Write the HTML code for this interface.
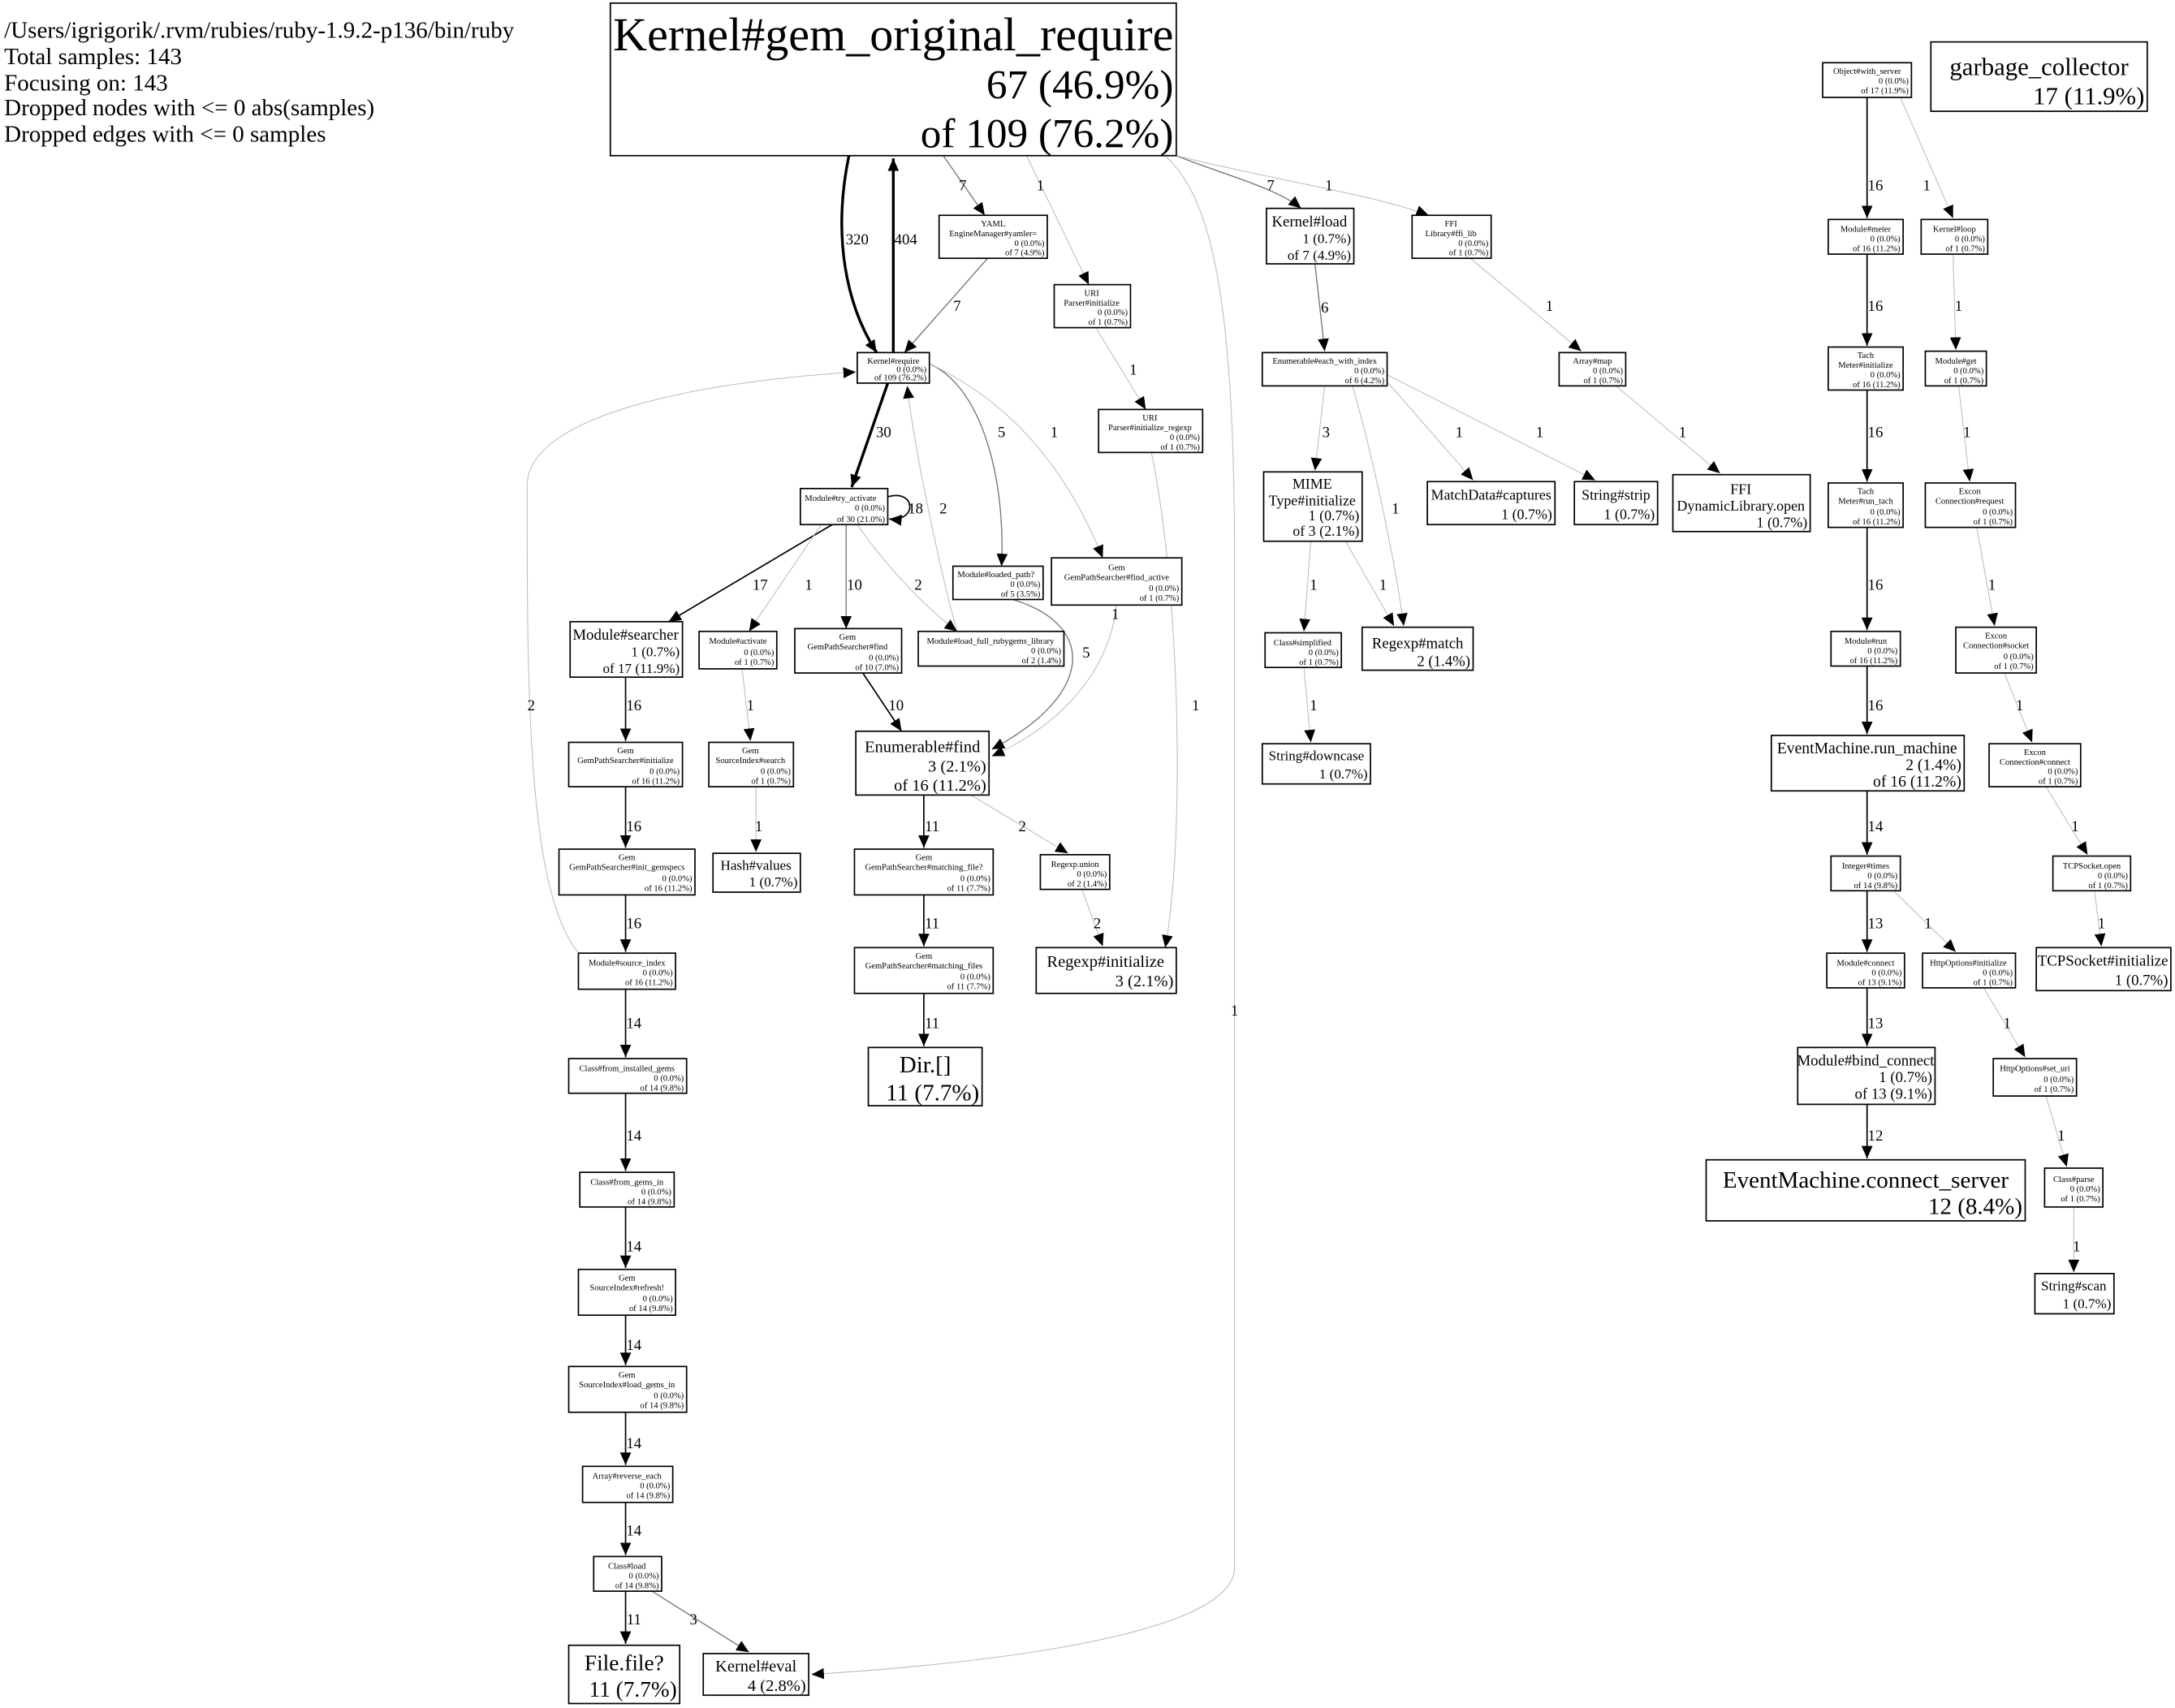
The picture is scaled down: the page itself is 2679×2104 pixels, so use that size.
<!DOCTYPE html>
<html><head><meta charset="utf-8"><style>
html,body{margin:0;padding:0;background:#fff;}
svg{display:block;}
text{font-family:"Liberation Serif",serif;fill:#000;}
.s{font-size:6.2px;}
.r{text-anchor:end;}
.c{text-anchor:middle;}
.l{font-size:11px;text-anchor:middle;}
rect{fill:#fff;stroke:#000;stroke-width:1;}
path{fill:none;}
.e1{stroke:#bbb;stroke-width:0.6;}
.e2{stroke:#777;stroke-width:0.8;}
.e3{stroke:#000;stroke-width:1;}
.eb{stroke:#000;stroke-width:2;}
</style></head><body>
<svg width="2679" height="2104" viewBox="0 0 1568 1231" xmlns="http://www.w3.org/2000/svg">
<defs>
<marker id="a" markerUnits="userSpaceOnUse" markerWidth="10" markerHeight="10" refX="9" refY="4" orient="auto"><path d="M0,0 L9,4 L0,8 Z" style="fill:#000;stroke:none"/></marker>
</defs>
<rect x="0" y="0" width="1568" height="1231" style="stroke:none"/>
<!-- header -->
<g style="font-size:17px">
<text x="3" y="27">/Users/igrigorik/.rvm/rubies/ruby-1.9.2-p136/bin/ruby</text>
<text x="3" y="46">Total samples: 143</text>
<text x="3" y="65">Focusing on: 143</text>
<text x="3" y="83">Dropped nodes with &lt;= 0 abs(samples)</text>
<text x="3" y="102">Dropped edges with &lt;= 0 samples</text>
</g>

<!-- EDGES -->
<g marker-end="url(#a)">
<path class="eb" d="M612,112 C600,170 610,220 632,254"/>
<path class="eb" d="M644,254 L644,114"/>
<path class="e2" d="M680,112 L710,155"/>
<path class="e1" d="M740,112 L785,205"/>
<path class="e2" d="M848,112 C880,125 920,135 938,150"/>
<path class="e1" d="M848,112 C920,130 990,140 1030,155"/>
<path class="e1" d="M840,112 C870,140 890,200 890,400 L890,1130 C890,1180 700,1200 585,1207"/>
<path class="e2" d="M712,186 L652,254"/>
<path class="e1" d="M790,236 L826,295"/>
<path class="e1" d="M830,326 C850,420 855,600 840,683"/>
<path class="eb" d="M640,276 L614,351"/>
<path class="e2" d="M670,262 C710,280 725,350 722,408"/>
<path class="e1" d="M670,262 C730,290 770,340 795,402"/>
<path class="e3" d="M640,358 C660,352 662,376 641,374"/>
<path class="e3" d="M600,378 L482,448"/>
<path class="e1" d="M592,378 L540,455"/>
<path class="e2" d="M610,378 L610,453"/>
<path class="e1" d="M618,378 C640,410 670,440 690,455"/>
<path class="e1" d="M690,455 C680,420 660,330 654,278"/>
<path class="e2" d="M730,432 C790,450 790,500 715,540"/>
<path class="e1" d="M805,436 C800,480 770,520 715,545"/>
<path class="e3" d="M622,485 L650,527"/>
<path class="e3" d="M451,488 L451,534"/>
<path class="e1" d="M535,482 L541,534"/>
<path class="e1" d="M545,567 L545,614"/>
<path class="e3" d="M451,567 L451,611"/>
<path class="e3" d="M451,645 L451,686"/>
<path class="e1" d="M420,690 C380,650 380,500 380,350 C380,300 500,275 617,268"/>
<path class="e3" d="M451,713 L451,762"/>
<path class="e3" d="M451,788 L451,844"/>
<path class="e3" d="M451,870 L451,914"/>
<path class="e3" d="M451,948 L451,984"/>
<path class="e3" d="M451,1018 L451,1056"/>
<path class="e3" d="M451,1083 L451,1121"/>
<path class="e3" d="M451,1147 L451,1185"/>
<path class="e2" d="M470,1147 L540,1191"/>
<path class="e3" d="M666,573 L666,611"/>
<path class="e1" d="M700,573 L770,615"/>
<path class="e3" d="M666,645 L666,682"/>
<path class="e3" d="M666,716 L666,754"/>
<path class="e1" d="M780,641 L795,682"/>
<path class="e2" d="M948,190 L955,253"/>
<path class="e1" d="M955,278 L948,339"/>
<path class="e1" d="M975,278 C990,330 1005,400 1012,451"/>
<path class="e1" d="M1000,275 L1062,346"/>
<path class="e1" d="M1000,270 L1150,346"/>
<path class="e1" d="M945,390 L940,455"/>
<path class="e1" d="M970,390 L1005,451"/>
<path class="e1" d="M940,481 L945,535"/>
<path class="e1" d="M1060,186 L1140,253"/>
<path class="e1" d="M1165,278 L1240,341"/>
<path class="e3" d="M1346,70 L1346,157"/>
<path class="e1" d="M1370,70 L1408,157"/>
<path class="e3" d="M1346,183 L1346,249"/>
<path class="e3" d="M1346,281 L1346,347"/>
<path class="e3" d="M1346,380 L1346,454"/>
<path class="e3" d="M1346,480 L1346,529"/>
<path class="e3" d="M1346,570 L1346,616"/>
<path class="e3" d="M1346,642 L1346,686"/>
<path class="e1" d="M1365,642 L1410,686"/>
<path class="e3" d="M1346,712 L1346,754"/>
<path class="e3" d="M1346,796 L1346,835"/>
<path class="e1" d="M1430,712 L1460,762"/>
<path class="e1" d="M1475,790 L1490,841"/>
<path class="e1" d="M1495,870 L1495,917"/>
<path class="e1" d="M1408,183 L1410,252"/>
<path class="e1" d="M1412,278 L1420,347"/>
<path class="e1" d="M1425,380 L1438,451"/>
<path class="e1" d="M1445,485 L1465,535"/>
<path class="e1" d="M1475,567 L1505,616"/>
<path class="e1" d="M1510,642 L1515,682"/>
</g>

<!-- edge labels -->
<text class="l" x="618" y="176">320</text>
<text class="l" x="653" y="176">404</text>
<text class="l" x="694" y="137">7</text>
<text class="l" x="750" y="137">1</text>
<text class="l" x="916" y="137">7</text>
<text class="l" x="958" y="137">1</text>
<text class="l" x="890" y="732">1</text>
<text class="l" x="690" y="224">7</text>
<text class="l" x="817" y="270">1</text>
<text class="l" x="862" y="512">1</text>
<text class="l" x="637" y="315">30</text>
<text class="l" x="722" y="315">5</text>
<text class="l" x="760" y="315">1</text>
<text class="l" x="660" y="370">18</text>
<text class="l" x="680" y="370">2</text>
<text class="l" x="548" y="425">17</text>
<text class="l" x="583" y="425">1</text>
<text class="l" x="616" y="425">10</text>
<text class="l" x="662" y="425">2</text>
<text class="l" x="783" y="474">5</text>
<text class="l" x="804" y="446">1</text>
<text class="l" x="646" y="512">10</text>
<text class="l" x="457" y="512">16</text>
<text class="l" x="541" y="512">1</text>
<text class="l" x="547" y="599">1</text>
<text class="l" x="457" y="599">16</text>
<text class="l" x="457" y="669">16</text>
<text class="l" x="383" y="512">2</text>
<text class="l" x="457" y="741">14</text>
<text class="l" x="457" y="822">14</text>
<text class="l" x="457" y="902">14</text>
<text class="l" x="457" y="973">14</text>
<text class="l" x="457" y="1044">14</text>
<text class="l" x="457" y="1107">14</text>
<text class="l" x="457" y="1171">11</text>
<text class="l" x="500" y="1171">3</text>
<text class="l" x="672" y="599">11</text>
<text class="l" x="737" y="599">2</text>
<text class="l" x="672" y="669">11</text>
<text class="l" x="672" y="741">11</text>
<text class="l" x="791" y="669">2</text>
<text class="l" x="955" y="225">6</text>
<text class="l" x="956" y="315">3</text>
<text class="l" x="1006" y="370">1</text>
<text class="l" x="1052" y="315">1</text>
<text class="l" x="1110" y="315">1</text>
<text class="l" x="947" y="425">1</text>
<text class="l" x="997" y="425">1</text>
<text class="l" x="947" y="512">1</text>
<text class="l" x="1117" y="224">1</text>
<text class="l" x="1213" y="315">1</text>
<text class="l" x="1352" y="137">16</text>
<text class="l" x="1389" y="137">1</text>
<text class="l" x="1352" y="224">16</text>
<text class="l" x="1352" y="315">16</text>
<text class="l" x="1352" y="425">16</text>
<text class="l" x="1352" y="512">16</text>
<text class="l" x="1352" y="599">14</text>
<text class="l" x="1352" y="669">13</text>
<text class="l" x="1390" y="669">1</text>
<text class="l" x="1352" y="741">13</text>
<text class="l" x="1352" y="822">12</text>
<text class="l" x="1447" y="741">1</text>
<text class="l" x="1486" y="822">1</text>
<text class="l" x="1497" y="902">1</text>
<text class="l" x="1412" y="224">1</text>
<text class="l" x="1418" y="315">1</text>
<text class="l" x="1436" y="425">1</text>
<text class="l" x="1456" y="512">1</text>
<text class="l" x="1496" y="599">1</text>
<text class="l" x="1515" y="669">1</text>

<!-- NODES -->
<!-- big root -->
<rect x="440" y="2" width="408" height="110"/>
<text x="644" y="36" class="c" style="font-size:34px">Kernel#gem_original_require</text>
<text x="846" y="71" class="r" style="font-size:30px">67 (46.9%)</text>
<text x="846" y="106" class="r" style="font-size:30px">of 109 (76.2%)</text>

<rect x="1392" y="30" width="156" height="50"/>
<text x="1470" y="54" class="c" style="font-size:18px">garbage_collector</text>
<text x="1546" y="75" class="r" style="font-size:18px">17 (11.9%)</text>

<!-- small node helper pattern -->
<rect x="1314" y="45" width="64" height="25"/>
<text class="s c" x="1346" y="53">Object#with_server</text><text class="s r" x="1376" y="60">0 (0.0%)</text><text class="s r" x="1376" y="67">of 17 (11.9%)</text>

<rect x="618" y="254" width="52" height="22"/>
<text class="s c" x="644" y="262">Kernel#require</text><text class="s r" x="668" y="268">0 (0.0%)</text><text class="s r" x="668" y="274">of 109 (76.2%)</text>

<rect x="677" y="155" width="78" height="31"/>
<text class="s c" x="716" y="163">YAML</text><text class="s c" x="716" y="170">EngineManager#yamler=</text><text class="s r" x="753" y="177">0 (0.0%)</text><text class="s r" x="753" y="184">of 7 (4.9%)</text>

<rect x="760" y="205" width="55" height="31"/>
<text class="s c" x="787" y="213">URI</text><text class="s c" x="787" y="220">Parser#initialize</text><text class="s r" x="813" y="227">0 (0.0%)</text><text class="s r" x="813" y="234">of 1 (0.7%)</text>

<rect x="792" y="295" width="75" height="31"/>
<text class="s c" x="829" y="303">URI</text><text class="s c" x="829" y="310">Parser#initialize_regexp</text><text class="s r" x="865" y="317">0 (0.0%)</text><text class="s r" x="865" y="324">of 1 (0.7%)</text>

<rect x="913" y="150" width="63" height="40"/>
<text x="944" y="163" class="c" style="font-size:11px">Kernel#load</text><text x="974" y="175" class="r" style="font-size:10px">1 (0.7%)</text><text x="974" y="187" class="r" style="font-size:10px">of 7 (4.9%)</text>

<rect x="1018" y="155" width="57" height="31"/>
<text class="s c" x="1046" y="163">FFI</text><text class="s c" x="1046" y="170">Library#ffi_lib</text><text class="s r" x="1073" y="177">0 (0.0%)</text><text class="s r" x="1073" y="184">of 1 (0.7%)</text>

<rect x="577" y="352" width="63" height="26"/>
<text class="s c" x="606" y="361">Module#try_activate</text><text class="s r" x="638" y="368">0 (0.0%)</text><text class="s r" x="638" y="376">of 30 (21.0%)</text>

<rect x="687" y="408" width="65" height="24"/>
<text class="s c" x="718" y="416">Module#loaded_path?</text><text class="s r" x="750" y="423">0 (0.0%)</text><text class="s r" x="750" y="430">of 5 (3.5%)</text>

<rect x="758" y="402" width="94" height="34"/>
<text class="s c" x="805" y="411">Gem</text><text class="s c" x="805" y="418">GemPathSearcher#find_active</text><text class="s r" x="850" y="426">0 (0.0%)</text><text class="s r" x="850" y="433">of 1 (0.7%)</text>

<rect x="411" y="448" width="81" height="40"/>
<text x="451" y="461" class="c" style="font-size:11px">Module#searcher</text><text x="490" y="473" class="r" style="font-size:10px">1 (0.7%)</text><text x="490" y="485" class="r" style="font-size:10px">of 17 (11.9%)</text>

<rect x="504" y="455" width="56" height="27"/>
<text class="s c" x="532" y="464">Module#activate</text><text class="s r" x="558" y="472">0 (0.0%)</text><text class="s r" x="558" y="479">of 1 (0.7%)</text>

<rect x="573" y="453" width="77" height="32"/>
<text class="s c" x="611" y="461">Gem</text><text class="s c" x="611" y="468">GemPathSearcher#find</text><text class="s r" x="648" y="476">0 (0.0%)</text><text class="s r" x="648" y="483">of 10 (7.0%)</text>

<rect x="662" y="455" width="105" height="25"/>
<text class="s c" x="714" y="464">Module#load_full_rubygems_library</text><text class="s r" x="765" y="471">0 (0.0%)</text><text class="s r" x="765" y="478">of 2 (1.4%)</text>

<rect x="410" y="535" width="82" height="32"/>
<text class="s c" x="451" y="543">Gem</text><text class="s c" x="451" y="550">GemPathSearcher#initialize</text><text class="s r" x="490" y="558">0 (0.0%)</text><text class="s r" x="490" y="565">of 16 (11.2%)</text>

<rect x="511" y="535" width="61" height="32"/>
<text class="s c" x="541" y="543">Gem</text><text class="s c" x="541" y="550">SourceIndex#search</text><text class="s r" x="570" y="558">0 (0.0%)</text><text class="s r" x="570" y="565">of 1 (0.7%)</text>

<rect x="617" y="527" width="96" height="46"/>
<text x="665" y="542" class="c" style="font-size:12px">Enumerable#find</text><text x="711" y="556" class="r" style="font-size:12px">3 (2.1%)</text><text x="711" y="570" class="r" style="font-size:12px">of 16 (11.2%)</text>

<rect x="403" y="612" width="98" height="33"/>
<text class="s c" x="452" y="620">Gem</text><text class="s c" x="452" y="627">GemPathSearcher#init_gemspecs</text><text class="s r" x="499" y="635">0 (0.0%)</text><text class="s r" x="499" y="642">of 16 (11.2%)</text>

<rect x="514" y="615" width="63" height="28"/>
<text x="545" y="627" class="c" style="font-size:10px">Hash#values</text><text x="575" y="639" class="r" style="font-size:10px">1 (0.7%)</text>

<rect x="616" y="612" width="100" height="33"/>
<text class="s c" x="666" y="620">Gem</text><text class="s c" x="666" y="627">GemPathSearcher#matching_file?</text><text class="s r" x="714" y="635">0 (0.0%)</text><text class="s r" x="714" y="642">of 11 (7.7%)</text>

<rect x="750" y="616" width="50" height="25"/>
<text class="s c" x="775" y="625">Regexp.union</text><text class="s r" x="798" y="632">0 (0.0%)</text><text class="s r" x="798" y="639">of 2 (1.4%)</text>

<rect x="417" y="687" width="70" height="26"/>
<text class="s c" x="452" y="696">Module#source_index</text><text class="s r" x="485" y="703">0 (0.0%)</text><text class="s r" x="485" y="710">of 16 (11.2%)</text>

<rect x="616" y="683" width="100" height="33"/>
<text class="s c" x="666" y="691">Gem</text><text class="s c" x="666" y="698">GemPathSearcher#matching_files</text><text class="s r" x="714" y="706">0 (0.0%)</text><text class="s r" x="714" y="713">of 11 (7.7%)</text>

<rect x="747" y="683" width="101" height="33"/>
<text x="797" y="697" class="c" style="font-size:12px">Regexp#initialize</text><text x="846" y="711" class="r" style="font-size:12px">3 (2.1%)</text>

<rect x="626" y="755" width="82" height="42"/>
<text x="667" y="773" class="c" style="font-size:17px">Dir.[]</text><text x="706" y="793" class="r" style="font-size:17px">11 (7.7%)</text>

<rect x="410" y="763" width="85" height="25"/>
<text class="s c" x="452" y="772">Class#from_installed_gems</text><text class="s r" x="493" y="779">0 (0.0%)</text><text class="s r" x="493" y="786">of 14 (9.8%)</text>

<rect x="418" y="845" width="68" height="25"/>
<text class="s c" x="452" y="854">Class#from_gems_in</text><text class="s r" x="484" y="861">0 (0.0%)</text><text class="s r" x="484" y="868">of 14 (9.8%)</text>

<rect x="417" y="915" width="70" height="33"/>
<text class="s c" x="452" y="923">Gem</text><text class="s c" x="452" y="930">SourceIndex#refresh!</text><text class="s r" x="485" y="938">0 (0.0%)</text><text class="s r" x="485" y="945">of 14 (9.8%)</text>

<rect x="410" y="985" width="85" height="33"/>
<text class="s c" x="452" y="993">Gem</text><text class="s c" x="452" y="1000">SourceIndex#load_gems_in</text><text class="s r" x="493" y="1008">0 (0.0%)</text><text class="s r" x="493" y="1015">of 14 (9.8%)</text>

<rect x="420" y="1057" width="65" height="26"/>
<text class="s c" x="452" y="1066">Array#reverse_each</text><text class="s r" x="483" y="1073">0 (0.0%)</text><text class="s r" x="483" y="1080">of 14 (9.8%)</text>

<rect x="428" y="1122" width="49" height="25"/>
<text class="s c" x="452" y="1131">Class#load</text><text class="s r" x="475" y="1138">0 (0.0%)</text><text class="s r" x="475" y="1145">of 14 (9.8%)</text>

<rect x="410" y="1186" width="80" height="42"/>
<text x="450" y="1204" class="c" style="font-size:16px">File.file?</text><text x="488" y="1223" class="r" style="font-size:16px">11 (7.7%)</text>

<rect x="507" y="1192" width="76" height="30"/>
<text x="545" y="1205" class="c" style="font-size:12px">Kernel#eval</text><text x="581" y="1219" class="r" style="font-size:12px">4 (2.8%)</text>

<rect x="910" y="254" width="90" height="24"/>
<text class="s c" x="955" y="262">Enumerable#each_with_index</text><text class="s r" x="998" y="269">0 (0.0%)</text><text class="s r" x="998" y="276">of 6 (4.2%)</text>

<rect x="911" y="340" width="71" height="50"/>
<text x="946" y="352" class="c" style="font-size:10.5px">MIME</text><text x="946" y="364" class="c" style="font-size:10.5px">Type#initialize</text><text x="980" y="375" class="r" style="font-size:10.5px">1 (0.7%)</text><text x="980" y="386" class="r" style="font-size:10.5px">of 3 (2.1%)</text>

<rect x="1029" y="347" width="92" height="31"/>
<text x="1075" y="360" class="c" style="font-size:10.5px">MatchData#captures</text><text x="1119" y="374" class="r" style="font-size:10.5px">1 (0.7%)</text>

<rect x="1135" y="347" width="60" height="31"/>
<text x="1165" y="360" class="c" style="font-size:10.5px">String#strip</text><text x="1193" y="374" class="r" style="font-size:10.5px">1 (0.7%)</text>

<rect x="1206" y="342" width="99" height="41"/>
<text x="1255" y="356" class="c" style="font-size:10.5px">FFI</text><text x="1255" y="368" class="c" style="font-size:10.5px">DynamicLibrary.open</text><text x="1303" y="380" class="r" style="font-size:10.5px">1 (0.7%)</text>

<rect x="1124" y="254" width="48" height="24"/>
<text class="s c" x="1148" y="262">Array#map</text><text class="s r" x="1170" y="269">0 (0.0%)</text><text class="s r" x="1170" y="276">of 1 (0.7%)</text>

<rect x="912" y="456" width="55" height="25"/>
<text class="s c" x="939" y="465">Class#simplified</text><text class="s r" x="965" y="472">0 (0.0%)</text><text class="s r" x="965" y="479">of 1 (0.7%)</text>

<rect x="982" y="452" width="80" height="31"/>
<text x="1022" y="467" class="c" style="font-size:11px">Regexp#match</text><text x="1060" y="480" class="r" style="font-size:11px">2 (1.4%)</text>

<rect x="910" y="536" width="78" height="29"/>
<text x="949" y="548" class="c" style="font-size:10px">String#downcase</text><text x="986" y="561" class="r" style="font-size:10px">1 (0.7%)</text>

<rect x="1318" y="158" width="54" height="25"/>
<text class="s c" x="1345" y="167">Module#meter</text><text class="s r" x="1370" y="174">0 (0.0%)</text><text class="s r" x="1370" y="181">of 16 (11.2%)</text>

<rect x="1385" y="158" width="48" height="25"/>
<text class="s c" x="1409" y="167">Kernel#loop</text><text class="s r" x="1431" y="174">0 (0.0%)</text><text class="s r" x="1431" y="181">of 1 (0.7%)</text>

<rect x="1318" y="250" width="54" height="31"/>
<text class="s c" x="1345" y="258">Tach</text><text class="s c" x="1345" y="265">Meter#initialize</text><text class="s r" x="1370" y="272">0 (0.0%)</text><text class="s r" x="1370" y="279">of 16 (11.2%)</text>

<rect x="1388" y="253" width="44" height="25"/>
<text class="s c" x="1410" y="262">Module#get</text><text class="s r" x="1430" y="269">0 (0.0%)</text><text class="s r" x="1430" y="276">of 1 (0.7%)</text>

<rect x="1318" y="348" width="54" height="32"/>
<text class="s c" x="1345" y="356">Tach</text><text class="s c" x="1345" y="363">Meter#run_tach</text><text class="s r" x="1370" y="371">0 (0.0%)</text><text class="s r" x="1370" y="378">of 16 (11.2%)</text>

<rect x="1388" y="348" width="65" height="32"/>
<text class="s c" x="1420" y="356">Excon</text><text class="s c" x="1420" y="363">Connection#request</text><text class="s r" x="1451" y="371">0 (0.0%)</text><text class="s r" x="1451" y="378">of 1 (0.7%)</text>

<rect x="1320" y="455" width="50" height="25"/>
<text class="s c" x="1345" y="464">Module#run</text><text class="s r" x="1368" y="471">0 (0.0%)</text><text class="s r" x="1368" y="478">of 16 (11.2%)</text>

<rect x="1410" y="452" width="58" height="33"/>
<text class="s c" x="1439" y="460">Excon</text><text class="s c" x="1439" y="467">Connection#socket</text><text class="s r" x="1466" y="475">0 (0.0%)</text><text class="s r" x="1466" y="482">of 1 (0.7%)</text>

<rect x="1277" y="530" width="139" height="40"/>
<text x="1346" y="543" class="c" style="font-size:11.5px">EventMachine.run_machine</text><text x="1414" y="555" class="r" style="font-size:11.5px">2 (1.4%)</text><text x="1414" y="567" class="r" style="font-size:11.5px">of 16 (11.2%)</text>

<rect x="1434" y="536" width="66" height="31"/>
<text class="s c" x="1467" y="544">Excon</text><text class="s c" x="1467" y="551">Connection#connect</text><text class="s r" x="1498" y="558">0 (0.0%)</text><text class="s r" x="1498" y="565">of 1 (0.7%)</text>

<rect x="1320" y="617" width="50" height="25"/>
<text class="s c" x="1345" y="626">Integer#times</text><text class="s r" x="1368" y="633">0 (0.0%)</text><text class="s r" x="1368" y="640">of 14 (9.8%)</text>

<rect x="1480" y="617" width="56" height="25"/>
<text class="s c" x="1508" y="626">TCPSocket.open</text><text class="s r" x="1534" y="633">0 (0.0%)</text><text class="s r" x="1534" y="640">of 1 (0.7%)</text>

<rect x="1317" y="687" width="56" height="25"/>
<text class="s c" x="1345" y="696">Module#connect</text><text class="s r" x="1371" y="703">0 (0.0%)</text><text class="s r" x="1371" y="710">of 13 (9.1%)</text>

<rect x="1386" y="687" width="67" height="25"/>
<text class="s c" x="1419" y="696">HttpOptions#initialize</text><text class="s r" x="1451" y="703">0 (0.0%)</text><text class="s r" x="1451" y="710">of 1 (0.7%)</text>

<rect x="1468" y="683" width="97" height="31"/>
<text x="1516" y="696" class="c" style="font-size:11px">TCPSocket#initialize</text><text x="1563" y="710" class="r" style="font-size:11px">1 (0.7%)</text>

<rect x="1296" y="755" width="99" height="41"/>
<text x="1345" y="768" class="c" style="font-size:11px">Module#bind_connect</text><text x="1393" y="780" class="r" style="font-size:11px">1 (0.7%)</text><text x="1393" y="792" class="r" style="font-size:11px">of 13 (9.1%)</text>

<rect x="1437" y="763" width="60" height="27"/>
<text class="s c" x="1467" y="772">HttpOptions#set_uri</text><text class="s r" x="1495" y="780">0 (0.0%)</text><text class="s r" x="1495" y="787">of 1 (0.7%)</text>

<rect x="1230" y="836" width="230" height="44"/>
<text x="1345" y="856" class="c" style="font-size:17px">EventMachine.connect_server</text><text x="1458" y="875" class="r" style="font-size:17px">12 (8.4%)</text>

<rect x="1474" y="842" width="42" height="28"/>
<text class="s c" x="1495" y="852">Class#parse</text><text class="s r" x="1514" y="859">0 (0.0%)</text><text class="s r" x="1514" y="866">of 1 (0.7%)</text>

<rect x="1467" y="918" width="57" height="29"/>
<text x="1495" y="930" class="c" style="font-size:10px">String#scan</text><text x="1522" y="943" class="r" style="font-size:10px">1 (0.7%)</text>
</svg>
</body></html>
